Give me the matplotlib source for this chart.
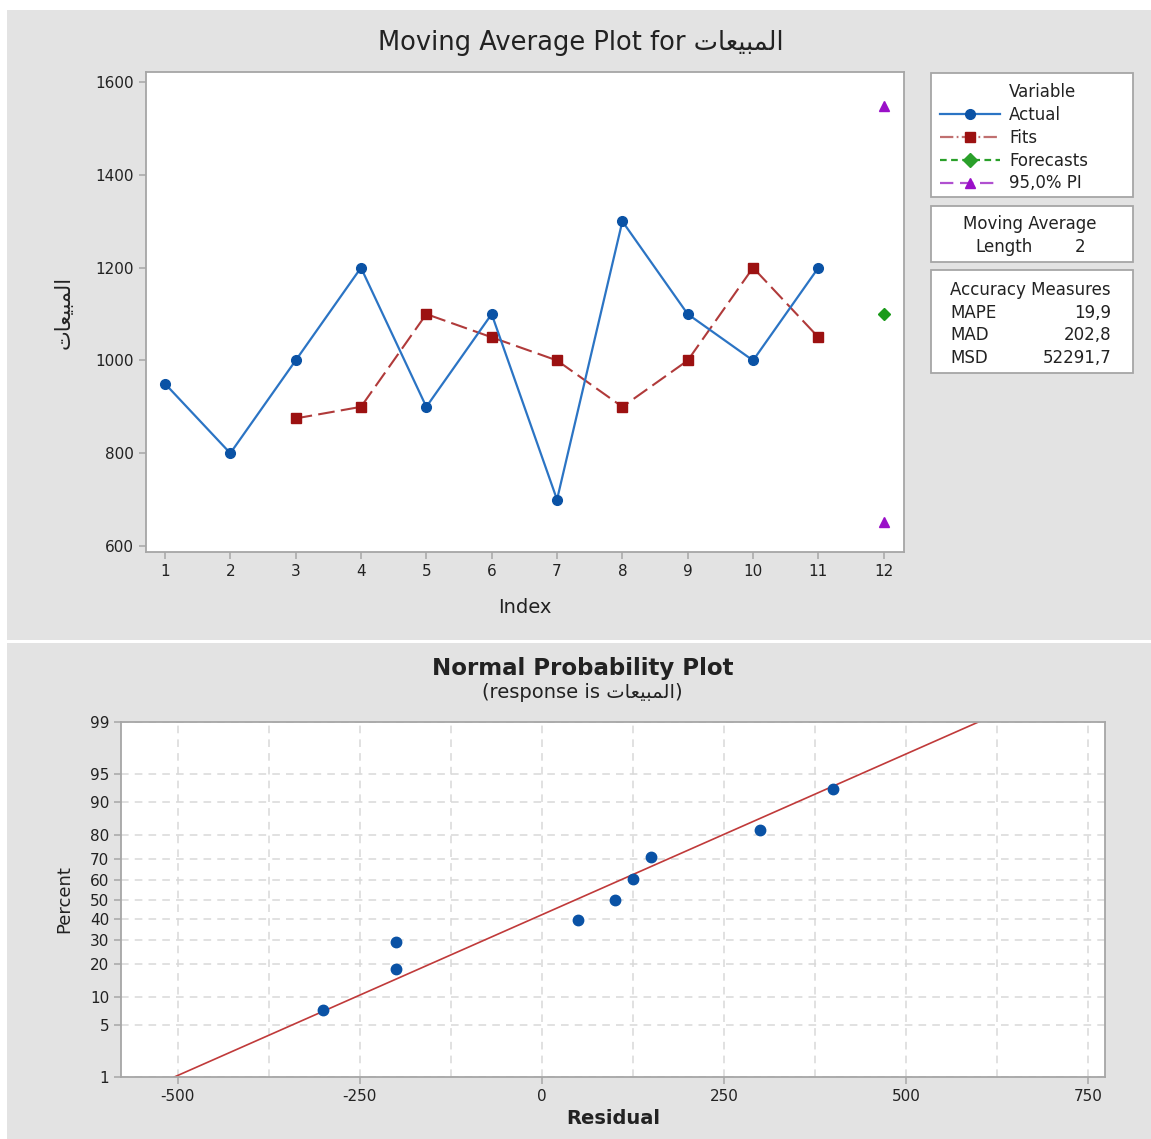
import matplotlib
matplotlib.use("Agg")
import matplotlib.pyplot as plt
from matplotlib.patches import Rectangle
from matplotlib.lines import Line2D
from statistics import NormalDist

plt.rcParams['font.family'] = ['DejaVu Sans']
plt.rcParams['axes.unicode_minus'] = False

W, H = 1151, 1139

# ---------------- data ----------------
AR = '\ufe95\ufe8e\ufecc\ufef4\ufe92\ufee4\ufedf\ufe8d'  # المبيعات (visual order, shaped)
index_actual = [1, 2, 3, 4, 5, 6, 7, 8, 9, 10, 11]
actual = [950, 800, 1000, 1200, 900, 1100, 700, 1300, 1100, 1000, 1200]
index_fits = [3, 4, 5, 6, 7, 8, 9, 10, 11]
fits = [875, 900, 1100, 1050, 1000, 900, 1000, 1200, 1050]
index_forecast = [12]
forecast = [1100]
index_pi = [12, 12]
pi_bounds = [1548.2, 651.8]
x_ticks_top = [1, 2, 3, 4, 5, 6, 7, 8, 9, 10, 11, 12]
y_ticks_top = [600, 800, 1000, 1200, 1400, 1600]

accuracy_names = ['MAPE', 'MAD', 'MSD']
accuracy_values = ['19,9', '202,8', '52291,7']
ma_length = '2'

residuals = [-300, -200, -200, 50, 100, 125, 150, 300, 400]
percents = [7.4, 18.1, 28.7, 39.4, 50.0, 60.6, 71.3, 81.9, 92.6]
fit_mean = 47.2
fit_sd = 237.3
pct_ticks = [1, 5, 10, 20, 30, 40, 50, 60, 70, 80, 90, 95, 99]
resid_ticks = [-500, -250, 0, 250, 500, 750]
resid_grid = [-375, -125, 125, 375, 625]


def fx(x):
    return x / W


def fy(y):
    return 1 - y / H


fig = plt.figure(figsize=(W / 100, H / 100), dpi=100, facecolor='white')

GRAY = '#e3e3e3'
fig.patches.append(Rectangle((fx(7), fy(640)), 1 - fx(7), fy(10) - fy(640),
                             transform=fig.transFigure, facecolor=GRAY, edgecolor='none', zorder=-5))
fig.patches.append(Rectangle((fx(7), 0), 1 - fx(7), fy(643),
                             transform=fig.transFigure, facecolor=GRAY, edgecolor='none', zorder=-5))

SPINE = '#a6a6a6'
TXT = '#222222'


def style_axes(ax):
    for s in ax.spines.values():
        s.set_color(SPINE)
        s.set_linewidth(1.3)
    ax.tick_params(colors=SPINE, labelcolor=TXT, labelsize=11, length=5, width=1.1)


# ---------------- top: moving average ----------------
ax1 = fig.add_axes([fx(146), fy(552), fx(904) - fx(146), fy(72) - fy(552)], zorder=2)
style_axes(ax1)
ax1.plot(index_actual, actual, color='#2b74c4', lw=1.6, marker='o', ms=7,
         mfc='#0a52a5', mec='#0a52a5', zorder=3)
l_fit, = ax1.plot(index_fits, fits, color='#b03a3a', lw=1.5, marker='s', ms=6.5,
                  mfc='#9c1111', mec='#9c1111', zorder=2)
l_fit.set_dashes([8, 3])
ax1.plot(index_forecast, forecast, ls='none', marker='D', ms=6, color='#1a9a1a')
ax1.plot(index_pi, pi_bounds, ls='none', marker='^', ms=7, color='#9a10c8')
ax1.set_xlim(0.71, 12.31)
ax1.set_ylim(587, 1622)
ax1.set_xticks(x_ticks_top)
ax1.set_yticks(y_ticks_top)
ax1.set_xlabel('Index', fontsize=14, color=TXT, labelpad=14)
ax1.set_ylabel(AR, fontsize=15, color=TXT, labelpad=16)

fig.text(fx(581), fy(43), 'Moving Average Plot for ' + AR, ha='center', va='center',
         fontsize=18.5, color=TXT)

# info boxes
for (x0, y0, x1, y1) in [(931, 73, 1133, 197), (931, 206, 1133, 262), (931, 270, 1133, 373)]:
    fig.patches.append(Rectangle((fx(x0), fy(y1)), fx(x1) - fx(x0), fy(y0) - fy(y1),
                                 transform=fig.transFigure, facecolor='white',
                                 edgecolor=SPINE, lw=1.3, zorder=1))

FS_BOX = 12
fig.text(fx(1009), fy(92), 'Variable', ha='left', va='center', fontsize=FS_BOX, color=TXT, zorder=3)
h_actual = Line2D([], [], color='#2b74c4', lw=1.6, marker='o', ms=7, mfc='#0a52a5', mec='#0a52a5')
h_fits = Line2D([], [], color='#c07070', lw=1.6, marker='s', ms=7, mfc='#9c1111', mec='#9c1111',
                dashes=[6, 1.5, 0.8, 1.5])
h_fore = Line2D([], [], color='#2aa02a', lw=1.6, marker='D', ms=7, dashes=[3, 2])
h_pi = Line2D([], [], color='#b050d0', lw=1.6, marker='^', ms=7, mfc='#9a10c8', mec='#9a10c8',
              dashes=[6, 3])
leg = ax1.legend([h_actual, h_fits, h_fore, h_pi], ['Actual', 'Fits', 'Forecasts', '95,0% PI'],
                 loc='upper left', bbox_to_anchor=(fx(940), fy(106)), bbox_transform=fig.transFigure,
                 frameon=False, fontsize=FS_BOX, handlelength=3.6, handletextpad=0.55,
                 labelspacing=0.29, borderpad=0, borderaxespad=0, numpoints=1)
for t in leg.get_texts():
    t.set_color(TXT)

fig.text(fx(1030), fy(224), 'Moving Average', ha='center', va='center', fontsize=FS_BOX, color=TXT)
fig.text(fx(975), fy(247), 'Length', ha='left', va='center', fontsize=FS_BOX, color=TXT)
fig.text(fx(1085), fy(247), ma_length, ha='right', va='center', fontsize=FS_BOX, color=TXT)
fig.text(fx(1030), fy(290), 'Accuracy Measures', ha='center', va='center', fontsize=FS_BOX, color=TXT)
for i, (n, v) in enumerate(zip(accuracy_names, accuracy_values)):
    yy = 313 + i * 22.5
    fig.text(fx(950), fy(yy), n, ha='left', va='center', fontsize=FS_BOX, color=TXT)
    fig.text(fx(1111), fy(yy), v, ha='right', va='center', fontsize=FS_BOX, color=TXT)

# ---------------- bottom: normal probability ----------------
nd = NormalDist()
ax2 = fig.add_axes([fx(121), fy(1077), fx(1105) - fx(121), fy(722) - fy(1077)], zorder=2)
style_axes(ax2)
z_pts = [nd.inv_cdf(p / 100) for p in percents]
zlo, zhi = nd.inv_cdf(0.01), nd.inv_cdf(0.99)
ax2.set_ylim(zlo, zhi)
ax2.set_xlim(-578, 773)
ax2.set_yticks([nd.inv_cdf(p / 100) for p in pct_ticks])
ax2.set_yticklabels([str(p) for p in pct_ticks])
ax2.set_xticks(resid_ticks)
ax2.set_xticks(resid_grid, minor=True)
ax2.tick_params(which='minor', length=0)
ax2.grid(True, which='both', color='#d9d9d9', lw=1.1, dashes=(5, 4))
ax2.set_axisbelow(True)
line_x = [fit_mean + zlo * fit_sd, fit_mean + zhi * fit_sd]
ax2.plot(line_x, [zlo, zhi], color='#c03a3a', lw=1.2, zorder=2)
ax2.plot(residuals, z_pts, ls='none', marker='o', ms=7.5, color='#0a52a5', zorder=3)
ax2.set_xlabel('Residual', fontsize=14, fontweight='bold', color=TXT, labelpad=4)
ax2.set_ylabel('Percent', fontsize=13, color=TXT, labelpad=12)

fig.text(fx(583), fy(669), 'Normal Probability Plot', ha='center', va='center',
         fontsize=16.5, fontweight='bold', color=TXT)
fig.text(fx(582), fy(692), '(response is ' + AR + ')', ha='center', va='center',
         fontsize=14, color=TXT)

fig.savefig('out.png', dpi=100, facecolor='white')
